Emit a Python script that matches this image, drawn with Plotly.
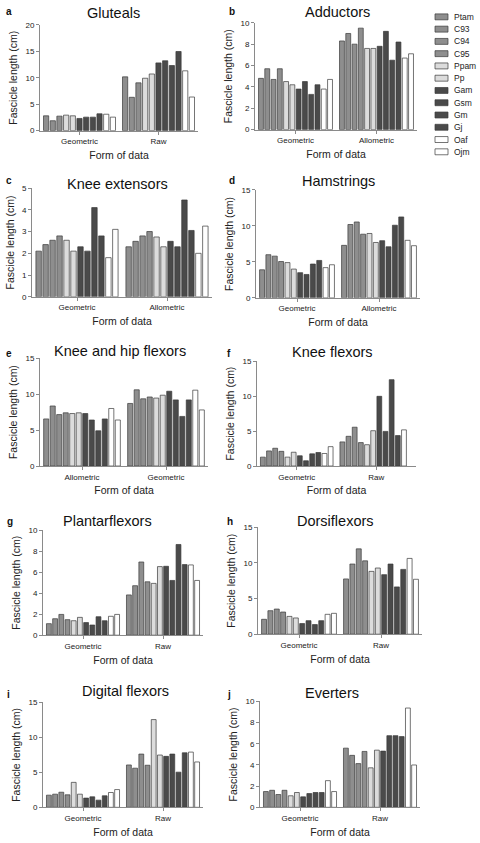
import plotly.graph_objects as go

# ---------------- data ----------------
species = ["Ptam", "C93", "C94", "C95", "Ppam", "Pp", "Gam", "Gsm", "Gm", "Gj", "Oaf", "Ojm"]

gluteals_cats = ["Geometric", "Raw"]
gluteals_geometric = [2.8, 1.87, 2.74, None, 2.93, 2.8, 2.3, 2.55, 2.55, 3.18, 3.1, 2.55]
gluteals_raw = [10.16, 6.3, 9.03, None, 9.9, 10.7, 12.8, 13.2, 12.3, 14.95, 11.3, 6.35]

adductors_cats = ["Geometric", "Allometric"]
adductors_geometric = [4.8, 5.7, 4.7, 5.7, 4.5, 4.2, 3.8, 4.5, 3.3, 4.2, 3.8, 4.7]
adductors_allometric = [8.3, 9.0, 8.0, 9.5, 7.6, 7.6, 7.8, 9.2, 6.5, 8.2, 6.7, 7.1]

knee_ext_cats = ["Geometric", "Allometric"]
knee_ext_geometric = [2.1, 2.4, 2.6, 2.8, 2.6, 2.1, 2.3, 2.1, 4.1, 2.8, 1.8, 3.1]
knee_ext_allometric = [2.3, 2.55, 2.8, 3.0, 2.75, 2.3, 2.55, 2.3, 4.45, 3.05, 2.0, 3.25]

hamstrings_cats = ["Geometric", "Allometric"]
hamstrings_geometric = [3.9, 6.0, 5.8, 5.05, 4.9, 4.0, 3.5, 3.25, 4.7, 5.2, 4.2, 4.6]
hamstrings_allometric = [7.3, 10.2, 10.55, 8.85, 8.95, 7.7, 7.95, 7.1, 10.1, 11.25, 8.0, 7.25]

khf_cats = ["Allometric", "Geometric"]
khf_allometric = [6.55, 8.35, 7.15, 7.4, 7.3, 7.4, 7.3, 6.4, 4.9, 6.55, 8.0, 6.4]
khf_geometric = [8.7, 10.6, 9.35, 9.6, 9.45, 9.85, 10.4, 9.2, 6.9, 9.2, 10.55, 7.8]

knee_flex_cats = ["Geometric", "Raw"]
knee_flex_geometric = [1.27, 2.16, 2.54, 2.1, 1.27, 1.97, 1.46, 0.75, 1.74, 1.93, 1.79, 2.77]
knee_flex_raw = [3.45, 4.25, 5.55, 3.35, 3.05, 5.05, 9.97, 4.95, 12.35, 4.35, 5.17, None]

plantar_cats = ["Geometric", "Raw"]
plantar_geometric = [1.1, 1.57, 1.98, 1.48, 1.38, 1.7, 1.2, 0.97, 1.76, 1.38, 1.8, 1.98]
plantar_raw = [3.84, 4.72, 6.98, 5.09, 4.94, 6.54, 6.57, 5.22, 8.65, 6.73, 6.7, 5.22]

dorsi_cats = ["Geometric", "Raw"]
dorsi_geometric = [2.09, 3.3, 3.53, 3.11, 2.5, 2.28, 1.49, 1.9, 1.35, 1.9, 2.79, 2.93]
dorsi_raw = [7.76, 9.85, 11.98, 10.3, 8.82, 9.29, 8.36, 9.85, 6.64, 9.1, 10.64, 7.71]

digital_cats = ["Geometric", "Raw"]
digital_geometric = [1.74, 1.88, 2.16, 1.79, 3.57, 1.88, 1.32, 1.5, 1.03, 1.65, 2.12, 2.54]
digital_raw = [6.06, 5.6, 7.62, 6.02, 12.55, 7.48, 7.29, 7.62, 5.03, 7.8, 7.9, 6.49]

everters_cats = ["Geometric", "Raw"]
everters_geometric = [1.49, 1.61, 1.21, 1.61, 1.09, 1.4, 0.99, 1.3, 1.4, 1.4, 2.52, 1.49]
everters_raw = [5.59, 4.91, 4.13, 5.28, 3.73, 5.4, 5.31, 6.77, 6.77, 6.68, 9.38, 4.0]

# ---------------- styles / layout ----------------
MED, LIGHT, DARK, WHITE = "#8e8e8e", "#dcdcdc", "#4a4a4a", "#ffffff"
species_colors = [MED, MED, MED, MED, LIGHT, LIGHT, DARK, DARK, DARK, DARK, WHITE, WHITE]
FONT = "Liberation Sans, Arial, sans-serif"
AXC = "#8a8a8a"
TXT = "#222222"
W, H = 480, 843

def fx(p):
    return p / W

def fy(p):
    return 1 - p / H

# (title, letter, cats, series1, series2, ymax, dtick, x0, x1, ytop, ybot, title_x, title_y, letter_x, letter_y)
panels = [
    ("Gluteals", "a", gluteals_cats, gluteals_geometric, gluteals_raw, 20, 5, 40, 198, 21, 128, 113, 9, 4, 8),
    ("Adductors", "b", adductors_cats, adductors_geometric, adductors_allometric, 10, 2, 255, 417, 19, 127, 337, 8, 227, 8),
    ("Knee extensors", "c", knee_ext_cats, knee_ext_geometric, knee_ext_allometric, 5, 1, 32, 212, 186, 296, 117, 182, 4, 178),
    ("Hamstrings", "d", hamstrings_cats, hamstrings_geometric, hamstrings_allometric, 15, 5, 256, 420, 188, 297, 338, 179, 227, 178),
    ("Knee and hip flexors", "e", khf_cats, khf_allometric, khf_geometric, 15, 5, 40, 208, 358, 467, 120, 351, 4, 353),
    ("Knee flexors", "f", knee_flex_cats, knee_flex_geometric, knee_flex_raw, 15, 5, 257, 416, 361, 467, 332, 352, 225, 353),
    ("Plantarflexors", "g", plantar_cats, plantar_geometric, plantar_raw, 10, 2, 43, 203, 532, 638, 107, 523, 5, 523),
    ("Dorsiflexors", "h", dorsi_cats, dorsi_geometric, dorsi_raw, 15, 5, 258, 422, 529, 637, 335, 523, 225, 523),
    ("Digital flexors", "i", digital_cats, digital_geometric, digital_raw, 15, 5, 43, 203, 706, 812, 125, 694, 5, 698),
    ("Everters", "j", everters_cats, everters_geometric, everters_raw, 10, 2, 260, 420, 705, 812, 332, 696, 225, 698),
]

fig = go.Figure()
layout = {}
annotations = []
shapes = []

for k, (title, letter, cats, s1, s2, ymax, dtick, x0, x1, yt, yb, tx, ty, lx, ly) in enumerate(panels, start=1):
    xa = "x" if k == 1 else f"x{k}"
    ya = "y" if k == 1 else f"y{k}"
    for i, sp in enumerate(species):
        vals = [s1[i], s2[i]]
        if all(v is None for v in vals):
            continue
        fig.add_trace(go.Bar(
            x=cats, y=vals, name=sp, xaxis=xa, yaxis=ya,
            marker=dict(color=species_colors[i], line=dict(color="#3a3a3a", width=0.7)),
            showlegend=False,
        ))
    layout["xaxis" if k == 1 else f"xaxis{k}"] = dict(
        domain=[fx(x0), fx(x1)], anchor=ya, type="category", range=[-0.5, 1.5],
        showline=True, linecolor=AXC, linewidth=1, ticks="outside", ticklen=3, tickcolor=AXC,
        tickfont=dict(size=8, color=TXT, family=FONT), showgrid=False, zeroline=False,
        title=dict(text="Form of data", font=dict(size=10.5, color=TXT, family=FONT), standoff=6),
        fixedrange=True,
    )
    layout["yaxis" if k == 1 else f"yaxis{k}"] = dict(
        domain=[fy(yb), fy(yt)], anchor=xa, range=[0, ymax], dtick=dtick,
        showline=True, linecolor=AXC, linewidth=1, ticks="outside", ticklen=3, tickcolor=AXC,
        tickfont=dict(size=8, color=TXT, family=FONT), showgrid=False, zeroline=False,
        title=dict(text="Fascicle length (cm)", font=dict(size=10.5, color=TXT, family=FONT), standoff=5),
        fixedrange=True,
    )
    annotations.append(dict(text=title, x=fx(tx), y=fy(ty), xref="paper", yref="paper",
                            xanchor="center", yanchor="middle", showarrow=False,
                            font=dict(size=14.5, color="#111111", family=FONT)))
    annotations.append(dict(text=f"<b>{letter}</b>", x=fx(lx), y=fy(ly), xref="paper", yref="paper",
                            xanchor="left", yanchor="middle", showarrow=False,
                            font=dict(size=10, color="#111111", family=FONT)))

# compact legend
for i, sp in enumerate(species):
    yc = 13 + i * 12.4
    shapes.append(dict(type="rect", xref="paper", yref="paper",
                       x0=fx(435), x1=fx(448), y0=fy(yc + 3), y1=fy(yc - 3),
                       fillcolor=species_colors[i], line=dict(color="#3a3a3a", width=0.7)))
    annotations.append(dict(text=sp, x=fx(452), y=fy(yc), xref="paper", yref="paper",
                            xanchor="left", yanchor="middle", showarrow=False,
                            font=dict(size=8.5, color=TXT, family=FONT)))

fig.update_layout(
    width=W, height=H, margin=dict(l=0, r=0, t=0, b=0),
    paper_bgcolor="white", plot_bgcolor="white",
    barmode="group", bargap=0.07, bargroupgap=0.22,
    annotations=annotations, shapes=shapes,
    font=dict(family=FONT, color=TXT),
    showlegend=False,
    **layout,
)

fig.write_html("out.html", config={"displayModeBar": False},
               post_script="document.body.style.margin='0px';document.body.style.overflow='hidden';")
